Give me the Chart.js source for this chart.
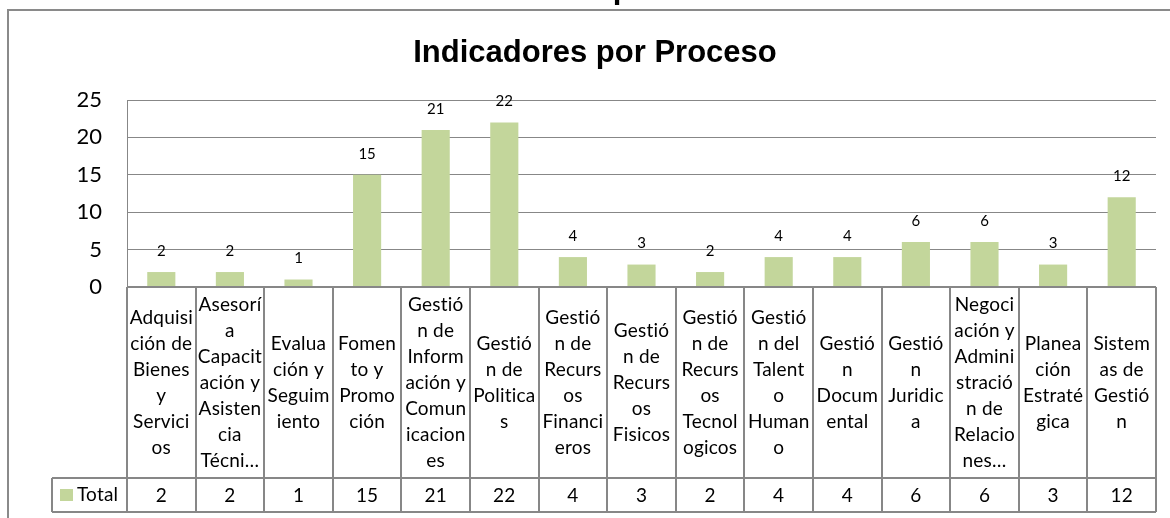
<!DOCTYPE html>
<html>
<head>
<meta charset="utf-8">
<script src="https://cdn.jsdelivr.net/npm/chart.js@4"></script>
<style>
  html, body { margin: 0; padding: 0; background: #fff; }
  #wrap { width: 1170px; height: 518px; }
</style>
</head>
<body>
<div id="wrap"><canvas id="myChart" width="1170" height="518"></canvas></div>
<script>
const chartTitle = 'Indicadores por Proceso';
const seriesName = 'Total';

const categories = [
  'Adquisición de Bienes y Servicios',
  'Asesoría Capacitación y Asistencia Técnica',
  'Evaluación y Seguimiento',
  'Fomento y Promoción',
  'Gestión de Información y Comunicaciones',
  'Gestión de Politicas',
  'Gestión de Recursos Financieros',
  'Gestión de Recursos Fisicos',
  'Gestión de Recursos Tecnologicos',
  'Gestión del Talento Humano',
  'Gestión Documental',
  'Gestión Juridica',
  'Negociación y Administración de Relaciones',
  'Planeación Estratégica',
  'Sistemas de Gestión'
];

// wrapped category labels as they appear in the data table
const labelLines = [
  ['Adquisi', 'ción de', 'Bienes', 'y', 'Servici', 'os'],
  ['Asesorí', 'a', 'Capacit', 'ación y', 'Asisten', 'cia', 'Técni…'],
  ['Evalua', 'ción y', 'Seguim', 'iento'],
  ['Fomen', 'to y', 'Promo', 'ción'],
  ['Gestió', 'n de', 'Inform', 'ación y', 'Comun', 'icacion', 'es'],
  ['Gestió', 'n de', 'Politica', 's'],
  ['Gestió', 'n de', 'Recurs', 'os', 'Financi', 'eros'],
  ['Gestió', 'n de', 'Recurs', 'os', 'Fisicos'],
  ['Gestió', 'n de', 'Recurs', 'os', 'Tecnol', 'ogicos'],
  ['Gestió', 'n del', 'Talent', 'o', 'Human', 'o'],
  ['Gestió', 'n', 'Docum', 'ental'],
  ['Gestió', 'n', 'Juridic', 'a'],
  ['Negoci', 'ación y', 'Admini', 'stració', 'n de', 'Relacio', 'nes…'],
  ['Planea', 'ción', 'Estraté', 'gica'],
  ['Sistem', 'as de', 'Gestió', 'n']
];

const totals = [2, 2, 1, 15, 21, 22, 4, 3, 2, 4, 4, 6, 6, 3, 12];

const yTicks = [0, 5, 10, 15, 20, 25];

const barColor = '#c3d69b';
const lineColor = '#878787';
const txtFont = 'Lato, "Open Sans", sans-serif';

// frame, title, the cut-off heading above
const framePlugin = {
  id: 'frame',
  afterDraw(chart) {
    const c = chart.ctx;
    c.save();
    c.strokeStyle = '#8a8a8a';
    c.lineWidth = 2;
    c.beginPath();
    c.moveTo(8, 518);
    c.lineTo(8, 10);
    c.lineTo(1170, 10);
    c.stroke();

    c.fillStyle = '#000';
    c.font = 'bold 31px "Liberation Sans", Arial, sans-serif';
    c.textAlign = 'center';
    c.textBaseline = 'alphabetic';
    c.fillText(chartTitle, 595, 62);
    // heading of the page above, mostly outside the picture
    c.fillText(chartTitle, 612, -2);
    c.restore();
  }
};

// value labels above the bars
const barLabels = {
  id: 'barLabels',
  afterDatasetsDraw(chart) {
    const c = chart.ctx;
    const meta = chart.getDatasetMeta(0);
    c.save();
    c.fillStyle = '#000';
    c.font = '15px ' + txtFont;
    c.textAlign = 'center';
    c.textBaseline = 'middle';
    meta.data.forEach((bar, i) => {
      c.fillText(String(totals[i]), bar.x, bar.y - 21);
    });
    c.restore();
  }
};

// Excel style data table below the plot
const dataTable = {
  id: 'dataTable',
  afterDraw(chart) {
    const c = chart.ctx;
    const x = chart.scales.x;
    const top = chart.chartArea.bottom;
    const headH = 191, rowH = 34;
    const legendLeft = 52;
    const step = x.width / categories.length;
    const bottom = top + headH + rowH;

    c.save();
    c.strokeStyle = lineColor;
    c.lineWidth = 2;
    c.beginPath();
    c.moveTo(x.left, top); c.lineTo(x.right, top);
    c.moveTo(legendLeft, top + headH); c.lineTo(x.right, top + headH);
    c.moveTo(legendLeft, bottom); c.lineTo(x.right, bottom);
    c.moveTo(legendLeft, top + headH); c.lineTo(legendLeft, bottom);
    for (let i = 0; i <= categories.length; i++) {
      const px = Math.round(x.left + i * step);
      c.moveTo(px, top); c.lineTo(px, bottom);
    }
    c.stroke();

    c.fillStyle = '#000';
    c.textAlign = 'center';
    c.textBaseline = 'middle';
    c.font = '19px ' + txtFont;
    c.letterSpacing = '0.2px'; // stops the "ti" ligature
    const midHead = top + headH / 2;
    labelLines.forEach((lines, i) => {
      const cx = x.getPixelForValue(i);
      lines.forEach((ln, j) => {
        c.fillText(ln, cx, midHead + (j - (lines.length - 1) / 2) * 26);
      });
    });

    const midRow = top + headH + rowH / 2;
    totals.forEach((v, i) => {
      c.fillText(String(v), x.getPixelForValue(i), midRow + 1);
    });

    // legend key + series name
    c.fillStyle = barColor;
    c.fillRect(60, midRow - 6, 13, 12);
    c.fillStyle = '#000';
    c.textAlign = 'left';
    c.fillText(seriesName, 77, midRow);
    c.restore();
  }
};

const ctx = document.getElementById('myChart');

new Chart(ctx, {
  type: 'bar',
  data: {
    labels: categories,
    datasets: [{
      label: seriesName,
      data: totals,
      backgroundColor: barColor,
      borderWidth: 0,
      categoryPercentage: 1,
      barPercentage: 0.41
    }]
  },
  options: {
    responsive: false,
    animation: false,
    layout: { padding: { top: 100, right: 14, left: 0, bottom: 0 } },
    plugins: {
      legend: { display: false },
      title: { display: false },
      tooltip: { enabled: false }
    },
    scales: {
      x: {
        grid: { display: false },
        border: { display: false },
        ticks: { display: false },
        afterFit(scale) { scale.height = 231; }
      },
      y: {
        min: 0,
        max: 25,
        afterBuildTicks(scale) { scale.ticks = yTicks.map(v => ({ value: v })); },
        grid: { color: lineColor, lineWidth: 1, drawTicks: false },
        border: { display: true, color: lineColor, width: 1 },
        ticks: {
          padding: 25,
          color: '#000',
          font: { family: txtFont, size: 22 }
        },
        afterFit(scale) { scale.width = 127; }
      }
    }
  },
  plugins: [framePlugin, barLabels, dataTable]
});
</script>
</body>
</html>
